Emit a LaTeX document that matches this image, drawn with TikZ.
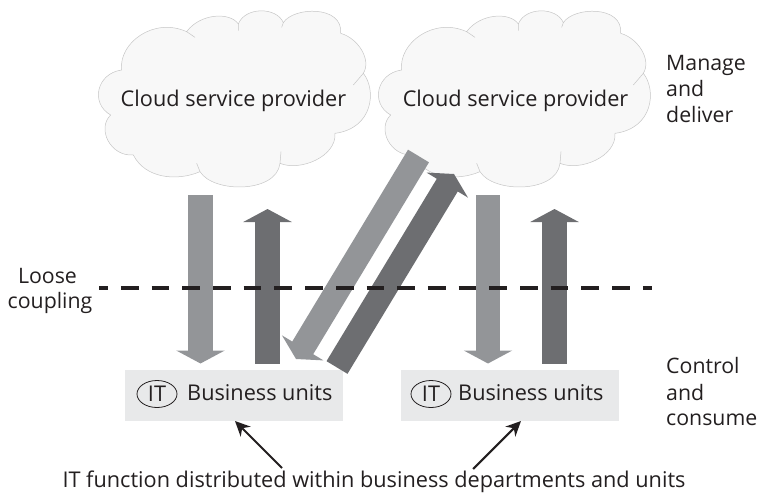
\documentclass[tikz,border=0pt]{standalone}
\usepackage{fontspec}
\setmainfont{Open Sans}
\usetikzlibrary{arrows.meta,shapes.geometric}
\definecolor{lightarrow}{HTML}{939598}
\definecolor{darkarrow}{HTML}{6D6E71}
\definecolor{boxfill}{HTML}{E8E9EA}
\definecolor{cloudfill}{HTML}{F8F8F8}
\definecolor{cloudline}{HTML}{C6C6C6}
\definecolor{ink}{HTML}{231F20}
\tikzset{
  txt/.style={font=\fontsize{21.7}{26}\selectfont, text=ink, inner sep=0pt},
  sidetxt/.style={font=\fontsize{21.3}{26}\selectfont, text=ink, inner sep=0pt},
  unitbox/.style={fill=boxfill, minimum width=218pt, minimum height=51pt, inner sep=0pt},
  itmark/.style={draw=ink, line width=0.8pt, ellipse, minimum width=40pt, minimum height=27pt, inner sep=0pt},
  lightblock/.style={draw=lightarrow, line width=24.5pt, -{Triangle[length=13pt,width=48pt,fill=lightarrow]}},
  darkblock/.style={draw=darkarrow, line width=24.5pt, -{Triangle[length=13pt,width=48pt,fill=darkarrow]}},
  pointer/.style={draw=ink, line width=2.1pt, -{Stealth[length=15pt,width=14pt]}},
  coupling/.style={draw=ink, line width=4.6pt, dash pattern=on 17.7pt off 13pt, dash phase=8.8pt},
}
\newcommand{\cloudat}[1]{%
  \begin{scope}[xshift=#1pt, x=0.33333pt, y=-0.33333pt]
    \path[fill=cloudfill, draw=cloudline, line width=0.5pt, line join=round]
      (125,210) .. controls (115,130) and (220,50) .. (320,95)
      .. controls (360,40) and (450,35) .. (475,72)
      .. controls (495,20) and (590,20) .. (610,68)
      .. controls (640,20) and (790,15) .. (782,100)
      .. controls (835,115) and (875,180) .. (850,220)
      .. controls (890,270) and (880,385) .. (765,400)
      .. controls (770,470) and (660,515) .. (600,490)
      .. controls (590,580) and (400,580) .. (360,515)
      .. controls (290,545) and (195,535) .. (160,465)
      .. controls (90,470) and (50,385) .. (92,345)
      .. controls (30,310) and (50,220) .. cycle;
    \draw[cloudline, line width=0.5pt]
      (320,95) -- (345,112) (475,72) -- (475,92) (610,68) -- (605,82)
      (850,220) -- (820,255) (600,490) -- (603,455) (360,515) -- (350,490);
  \end{scope}}
\begin{document}
\begin{tikzpicture}[x=1pt,y=-1pt]
\useasboundingbox (0,0) rectangle (759,492);
\cloudat{80}
\cloudat{360}
\node[txt, anchor=base] (cloudA) at (233.5,106.5) {Cloud service provider};
\node[txt, anchor=base] (cloudB) at (515.5,106.5) {Cloud service provider};
\node[sidetxt, anchor=base west] (manage) at (666,71) {Manage};
\node[sidetxt, anchor=base west] (andA) at (666,97) {and};
\node[sidetxt, anchor=base west] (deliver) at (666,122) {deliver};
\node[sidetxt, anchor=base] (loose) at (47.5,283) {Loose};
\node[sidetxt, anchor=base] (coupl) at (50,308) {coupling};
\node[sidetxt, anchor=base west] (control) at (666,373) {Control};
\node[sidetxt, anchor=base west] (andB) at (666,400) {and};
\node[sidetxt, anchor=base west] (consume) at (666,425) {consume};
\node[unitbox] (unitA) at (234,395.5) {};
\node[unitbox] (unitB) at (510,395.5) {};
\node[itmark] (itA) at (157,394) {};
\node[txt] at (itA.center) {IT};
\node[itmark] (itB) at (431,394) {};
\node[txt] at (itB.center) {IT};
\node[txt, anchor=base west] (busA) at (187,400.7) {Business units};
\node[txt, anchor=base west] (busB) at (458,400.7) {Business units};
\node[txt, anchor=base] (caption) at (374,487) {IT function distributed within business departments and units};
\coordinate (a1s) at (200.5,195); \coordinate (a1e) at (200.5,363.5);
\coordinate (a2s) at (267.5,363.5); \coordinate (a2e) at (267.5,209);
\coordinate (a3s) at (418.5,156); \coordinate (a3e) at (296,359);
\coordinate (a4s) at (337,367.5); \coordinate (a4e) at (454,174);
\coordinate (a5s) at (488,195); \coordinate (a5e) at (488,363.5);
\coordinate (a6s) at (554.5,363.5); \coordinate (a6e) at (554.5,209);
\draw[lightblock] (a1s) -- (a1e);
\draw[darkblock] (a2s) -- (a2e);
\draw[lightblock] (a3s) -- (a3e);
\draw[darkblock] (a4s) -- (a4e);
\draw[lightblock] (a5s) -- (a5e);
\draw[darkblock] (a6s) -- (a6e);
\coordinate (l1) at (99,288); \coordinate (l2) at (652,288);
\draw[coupling] (l1) -- (l2);
\coordinate (p1s) at (282,468); \coordinate (p1e) at (235,421);
\coordinate (p2s) at (473,469); \coordinate (p2e) at (521,421);
\draw[pointer] (p1s) -- (p1e);
\draw[pointer] (p2s) -- (p2e);
\end{tikzpicture}
\end{document}
